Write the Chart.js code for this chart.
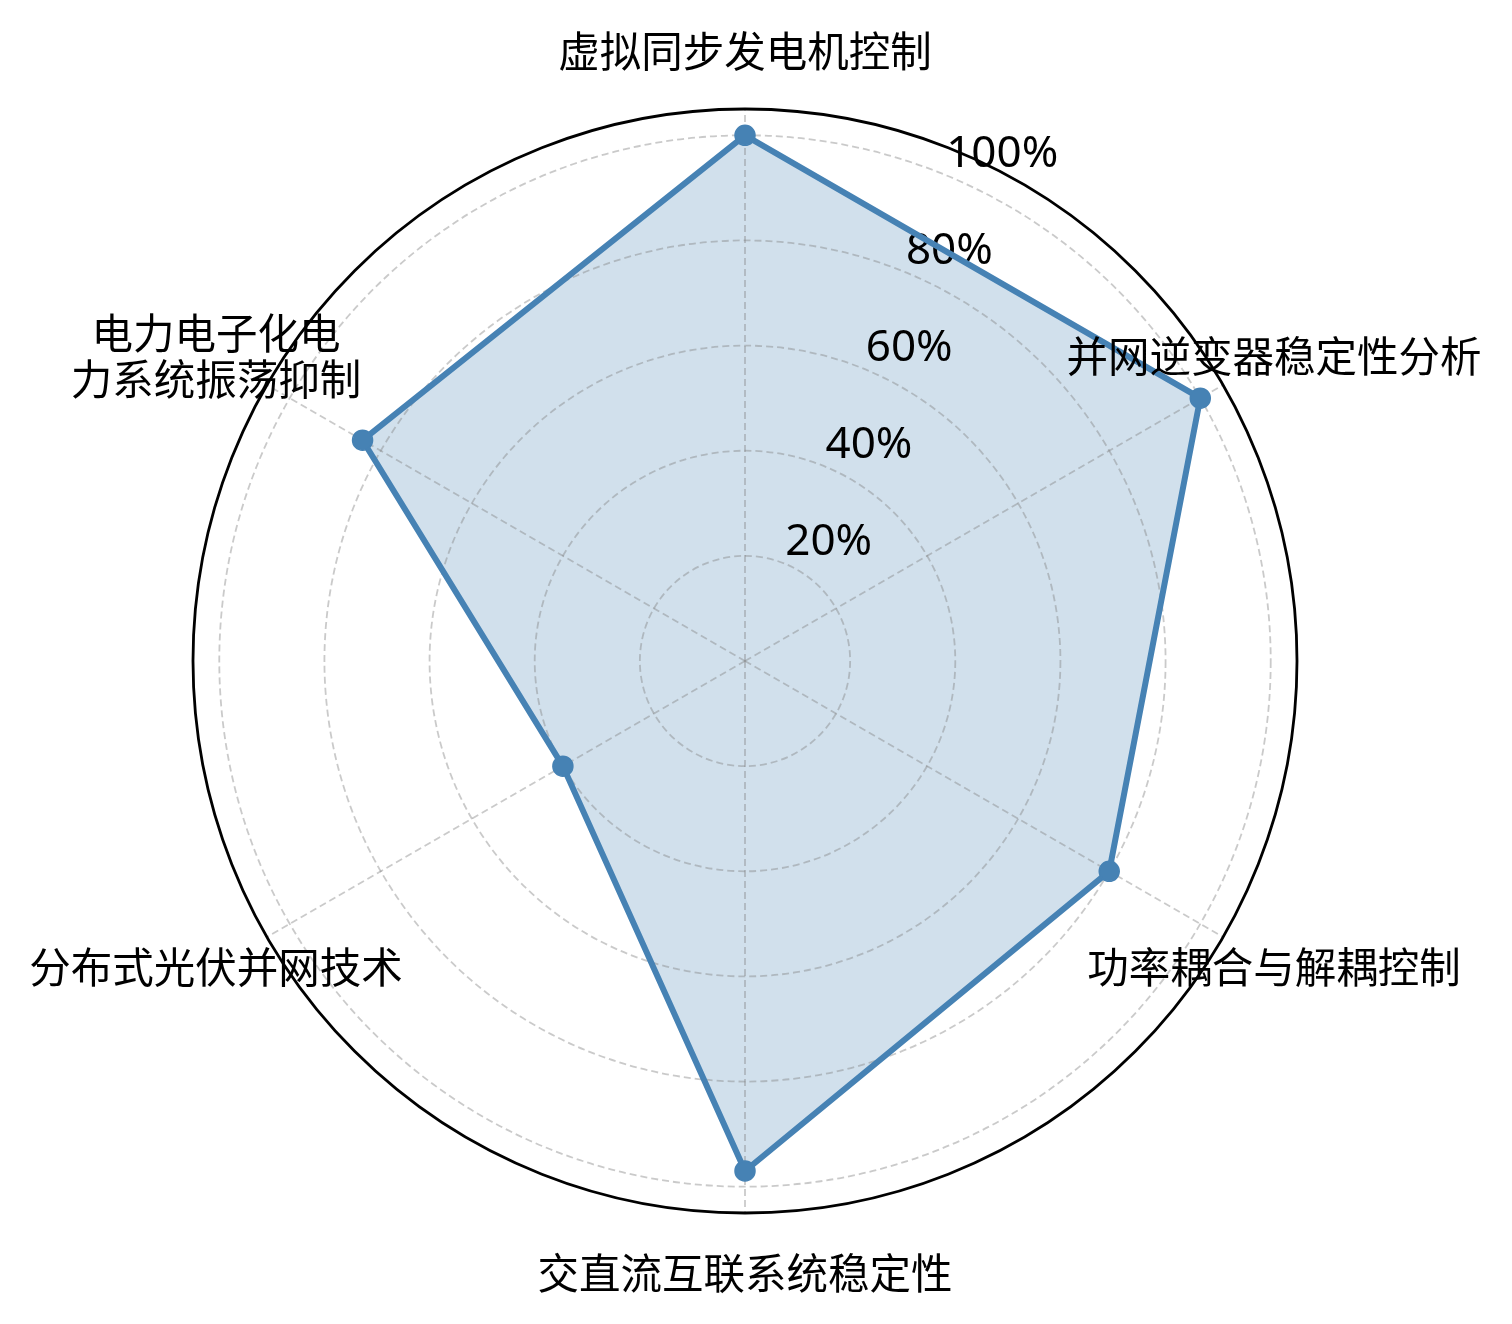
<!DOCTYPE html>
<html>
<head>
<meta charset="utf-8">
<script src="https://cdn.jsdelivr.net/npm/chart.js@4/dist/chart.umd.min.js"></script>
<style>
  html, body { margin: 0; padding: 0; background: #ffffff; }
  #wrap { width: 1512px; height: 1324px; position: relative; }
</style>
</head>
<body>
<div id="wrap"><canvas id="c"></canvas></div>
<script>
// ---- data ----
const categories = [
  '虚拟同步发电机控制',
  '并网逆变器稳定性分析',
  '功率耦合与解耦控制',
  '交直流互联系统稳定性',
  '分布式光伏并网技术',
  ['电力电子化电', '力系统振荡抑制']
];
const scores = [100, 100, 80, 97, 40, 84];
const tickValues = [20, 40, 60, 80, 100];
const tickLabels = ['20%', '40%', '60%', '80%', '100%'];
const axisMax = 105;

const LINE = '#4682b4';
const GRID = 'rgba(128,128,128,0.42)';
const CJK = '"Noto Sans CJK SC", "Noto Sans", sans-serif';

const decorPlugin = {
  id: 'decor',
  beforeDatasetsDraw(chart) {
    const s = chart.scales.r;
    const ctx = chart.ctx;
    // solid outer circle
    ctx.save();
    ctx.beginPath();
    ctx.arc(s.xCenter, s.yCenter, s.getDistanceFromCenterForValue(axisMax), 0, Math.PI * 2);
    ctx.strokeStyle = '#000000';
    ctx.lineWidth = 2.8;
    ctx.stroke();
    ctx.restore();
    // radial tick labels at 22.5 deg from vertical
    ctx.save();
    ctx.font = '44px "Noto Sans", sans-serif';
    ctx.fillStyle = '#000000';
    ctx.textAlign = 'left';
    ctx.textBaseline = 'alphabetic';
    const a = 22.5 * Math.PI / 180;
    tickValues.forEach((v, i) => {
      const r = s.getDistanceFromCenterForValue(v);
      const x = s.xCenter + r * Math.sin(a);
      const y = s.yCenter - r * Math.cos(a);
      ctx.fillText(tickLabels[i], x, y - 8.7);
    });
    ctx.restore();
  },
  afterDraw(chart) {
    const s = chart.scales.r;
    const ctx = chart.ctx;
    ctx.save();
    ctx.font = '41.5px ' + CJK;
    ctx.fillStyle = '#000000';
    ctx.textAlign = 'center';
    ctx.textBaseline = 'middle';
    const dist = s.getDistanceFromCenterForValue(116.2);
    const lh = 46;
    categories.forEach((lab, i) => {
      const p = s.getPointPosition(i, dist);
      const lines = Array.isArray(lab) ? lab : [lab];
      const y0 = p.y - (lines.length - 1) * lh / 2;
      lines.forEach((t, k) => ctx.fillText(t, p.x, y0 + k * lh + 1));
    });
    ctx.restore();
  }
};

new Chart(document.getElementById('c'), {
  type: 'radar',
  data: {
    labels: categories,
    datasets: [{
      data: scores,
      borderColor: LINE,
      backgroundColor: 'rgba(70,130,180,0.25)',
      borderWidth: 6,
      fill: true,
      pointRadius: 10,
      pointBorderWidth: 1.5,
      pointBackgroundColor: LINE,
      pointBorderColor: LINE,
      tension: 0
    }]
  },
  options: {
    responsive: true,
    maintainAspectRatio: false,
    animation: false,
    layout: { padding: { left: 193, right: 215, top: 109, bottom: 111 } },
    plugins: {
      legend: { display: false },
      tooltip: { enabled: false },
      filler: { drawTime: 'beforeDraw' }
    },
    scales: {
      r: {
        min: 0,
        max: axisMax,
        ticks: { display: false, stepSize: 20 },
        pointLabels: { display: false },
        grid: {
          circular: true,
          color: (c) => (c.tick && c.tick.value > 100 ? 'rgba(0,0,0,0)' : GRID),
          lineWidth: 1.8
        },
        border: { dash: [7, 4] },
        angleLines: { display: true, color: GRID, lineWidth: 1.8, borderDash: [7, 4] }
      }
    }
  },
  plugins: [decorPlugin]
});
</script>
</body>
</html>
